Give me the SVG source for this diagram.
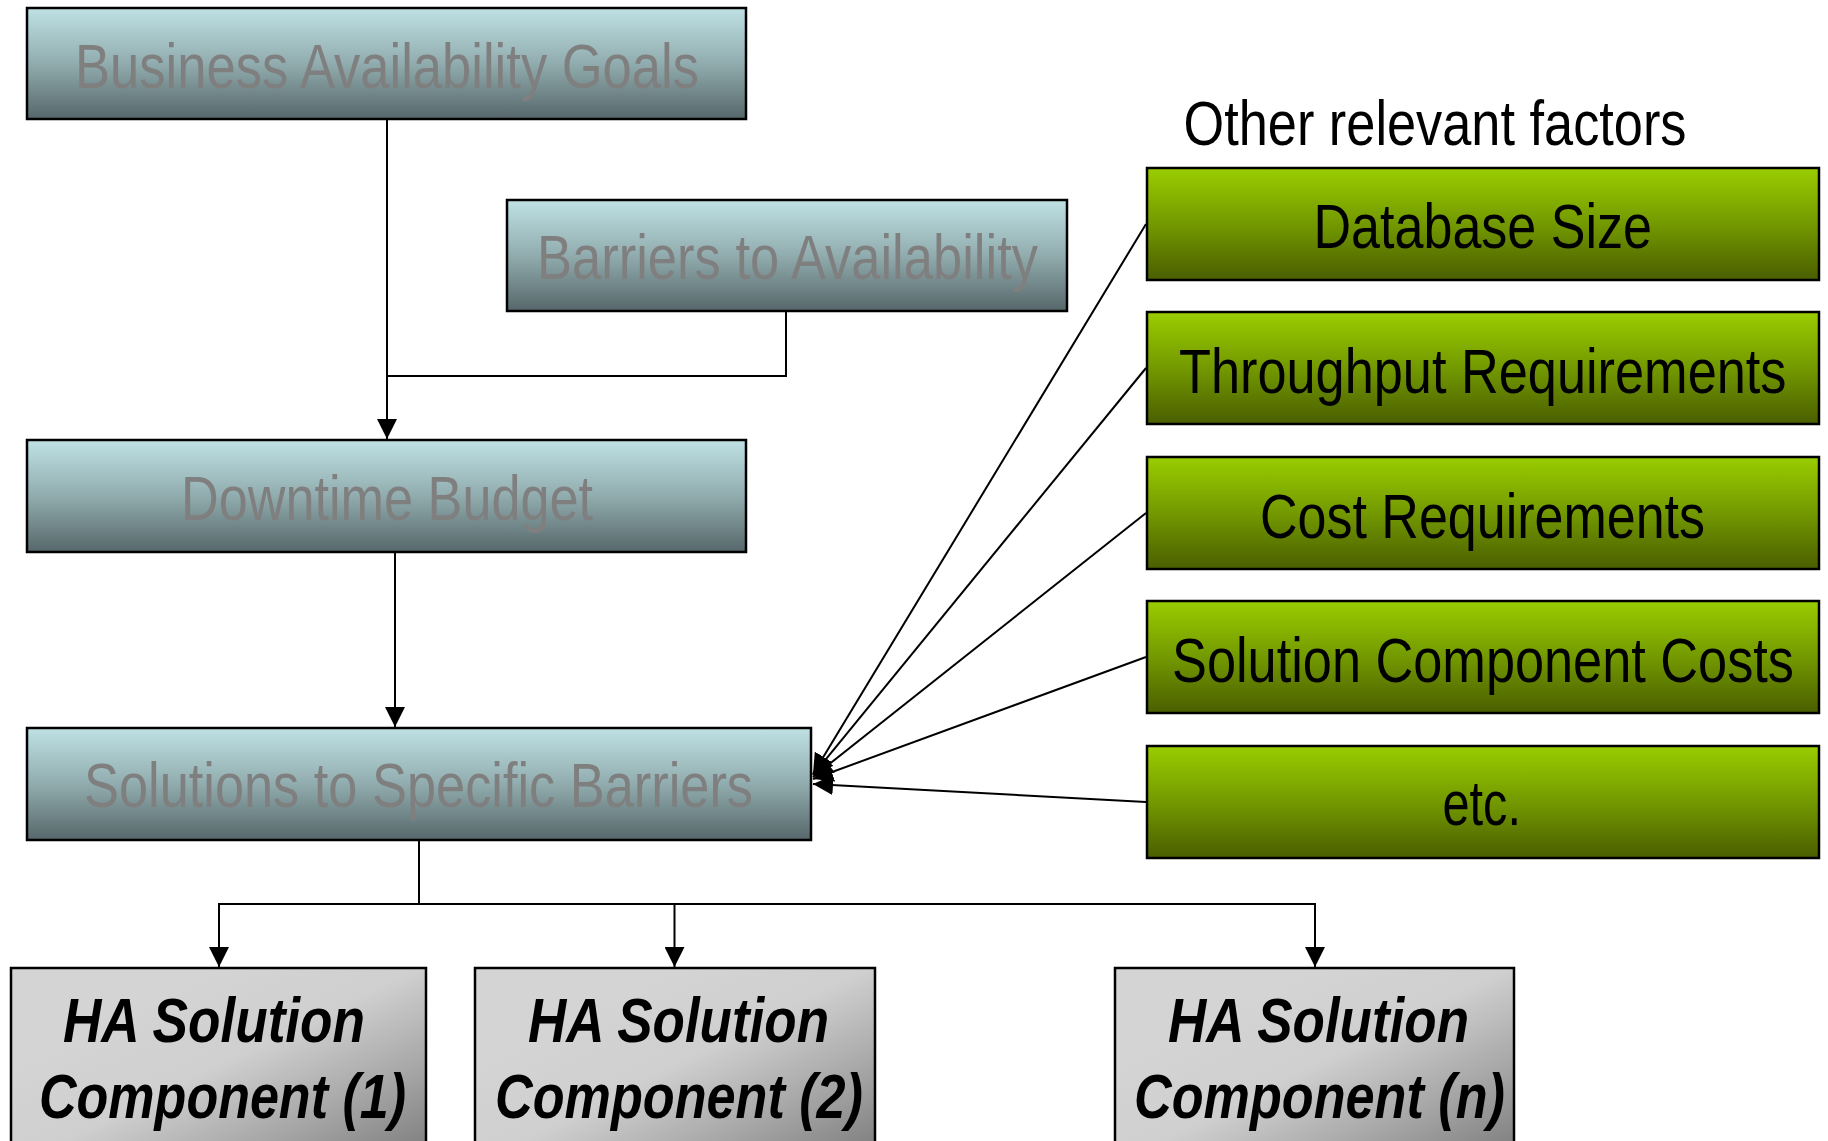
<svg xmlns="http://www.w3.org/2000/svg" width="1828" height="1141" viewBox="0 0 1828 1141">
<style>
.box{stroke:#000;stroke-width:2.5}
.teal{fill:url(#gTeal)}
.green{fill:url(#gGreen)}
.grey{fill:url(#gGrey)}
.tt{font-family:"Liberation Sans Narrow","Liberation Sans",Arial,sans-serif;font-size:63px;fill:#7f7f7f}
.gt{font-family:"Liberation Sans Narrow","Liberation Sans",Arial,sans-serif;font-size:63px;fill:#000}
.ht{font-family:"Liberation Sans Narrow","Liberation Sans",Arial,sans-serif;font-size:63px;font-weight:bold;font-style:italic;fill:#000}
.c{fill:none;stroke:#000;stroke-width:2}
.ca{fill:none;stroke:#000;stroke-width:2;marker-end:url(#arr)}
</style>
<defs>
<linearGradient id="gTeal" x1="0" y1="0" x2="0" y2="1">
<stop offset="0" stop-color="#bfe1e4"/>
<stop offset="0.5" stop-color="#91acae"/>
<stop offset="1" stop-color="#56676a"/>
</linearGradient>
<linearGradient id="gGreen" x1="0" y1="0" x2="0" y2="1">
<stop offset="0" stop-color="#9acd00"/>
<stop offset="0.5" stop-color="#739900"/>
<stop offset="1" stop-color="#4a5e00"/>
</linearGradient>
<linearGradient id="gGrey" x1="0.3" y1="0.2" x2="1" y2="0.9">
<stop offset="0" stop-color="#d4d4d4"/>
<stop offset="0.35" stop-color="#cfcfcf"/>
<stop offset="0.7" stop-color="#a6a6a6"/>
<stop offset="1" stop-color="#808080"/>
</linearGradient>
<marker id="arr" markerUnits="userSpaceOnUse" markerWidth="20" markerHeight="20" viewBox="0 0 20 20" refX="20" refY="10" orient="auto">
<path d="M0,0 L20,10 L0,20 z" fill="#000"/>
</marker>
</defs>

<g id="connectors">
<path class="ca" d="M387,120 V439"/>
<path class="c" d="M786,312 V376 H387"/>
<path class="ca" d="M395,552 V727"/>
<path class="c" d="M419,840 V904"/>
<path class="c" stroke-width="3" d="M218,904 H1316"/>
<path class="ca" d="M219,904 V967"/>
<path class="ca" d="M674.5,904 V967"/>
<path class="ca" d="M1315,904 V967"/>
<path class="ca" d="M1146,224 L813,774"/>
<path class="ca" d="M1146,368 L813,775"/>
<path class="ca" d="M1146,513 L813,777"/>
<path class="ca" d="M1146,657 L813,779"/>
<path class="ca" stroke-width="2.5" d="M1146,802 L813,784"/>
</g>

<g id="business">
<rect class="box teal" x="27" y="8" width="719" height="111"/>
<text class="tt" x="75" y="88" textLength="624" lengthAdjust="spacingAndGlyphs">Business Availability Goals</text>
</g>
<g id="barriers">
<rect class="box teal" x="507" y="200" width="560" height="111"/>
<text class="tt" x="537" y="279" textLength="501" lengthAdjust="spacingAndGlyphs">Barriers to Availability</text>
</g>
<g id="downtime">
<rect class="box teal" x="27" y="440" width="719" height="112"/>
<text class="tt" x="181" y="520" textLength="412" lengthAdjust="spacingAndGlyphs">Downtime Budget</text>
</g>
<g id="solutions">
<rect class="box teal" x="27" y="728" width="784" height="112"/>
<text class="tt" x="84" y="807" textLength="669" lengthAdjust="spacingAndGlyphs">Solutions to Specific Barriers</text>
</g>

<text id="other-label" class="gt" x="1183.5" y="144.5" textLength="503" lengthAdjust="spacingAndGlyphs">Other relevant factors</text>

<g id="database-size">
<rect class="box green" x="1147" y="168" width="672" height="112"/>
<text class="gt" x="1313.5" y="248" textLength="338.5" lengthAdjust="spacingAndGlyphs">Database Size</text>
</g>
<g id="throughput">
<rect class="box green" x="1147" y="312" width="672" height="112"/>
<text class="gt" x="1179" y="393" textLength="607.5" lengthAdjust="spacingAndGlyphs">Throughput Requirements</text>
</g>
<g id="cost">
<rect class="box green" x="1147" y="457" width="672" height="112"/>
<text class="gt" x="1260" y="537.5" textLength="445" lengthAdjust="spacingAndGlyphs">Cost Requirements</text>
</g>
<g id="component-costs">
<rect class="box green" x="1147" y="601" width="672" height="112"/>
<text class="gt" x="1172" y="682" textLength="622" lengthAdjust="spacingAndGlyphs">Solution Component Costs</text>
</g>
<g id="etc">
<rect class="box green" x="1147" y="746" width="672" height="112"/>
<text class="gt" x="1442.5" y="825" textLength="78.5" lengthAdjust="spacingAndGlyphs">etc.</text>
</g>

<g id="ha1">
<rect class="box grey" x="11" y="968" width="415" height="200"/>
<text class="ht" x="63" y="1042" textLength="302" lengthAdjust="spacingAndGlyphs">HA Solution</text>
<text class="ht" x="39" y="1118" textLength="367" lengthAdjust="spacingAndGlyphs">Component (1)</text>
</g>
<g id="ha2">
<rect class="box grey" x="475" y="968" width="400" height="200"/>
<text class="ht" x="528" y="1042" textLength="301" lengthAdjust="spacingAndGlyphs">HA Solution</text>
<text class="ht" x="495" y="1118" textLength="368" lengthAdjust="spacingAndGlyphs">Component (2)</text>
</g>
<g id="han">
<rect class="box grey" x="1115" y="968" width="399" height="200"/>
<text class="ht" x="1168" y="1042" textLength="301" lengthAdjust="spacingAndGlyphs">HA Solution</text>
<text class="ht" x="1134" y="1118" textLength="371" lengthAdjust="spacingAndGlyphs">Component (n)</text>
</g>
</svg>
